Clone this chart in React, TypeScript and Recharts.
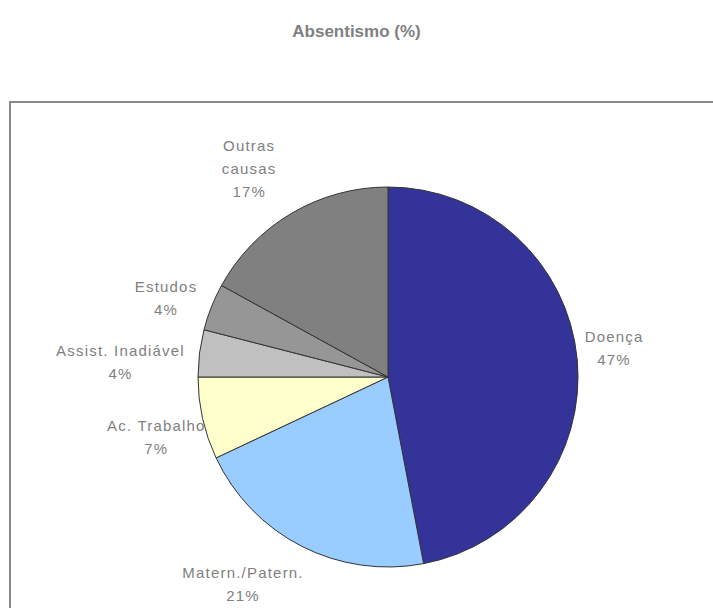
import React from 'react';
import { PieChart, Pie, Cell } from 'recharts';

const CATEGORIES = ['Doença', 'Matern./Patern.', 'Ac. Trabalho', 'Assist. Inadiável', 'Estudos', 'Outras\ncausas'];
const VALUES = [47, 21, 7, 4, 4, 17];

const COLORS = ['#333399', '#99ccff', '#ffffcc', '#c0c0c0', '#969696', '#808080'];

// label placement: angle shift from slice middle (deg, clockwise) and distance as a factor of the radius
const LABEL_SHIFT = [-2, 8, -2, -4, -2, -3];
const LABEL_DIST = [1.2, 1.33, 1.26, 1.41, 1.24, 1.32];

const data = CATEGORIES.map((name, i) => ({ name, value: VALUES[i] }));
const total = VALUES.reduce((s, v) => s + v, 0);

const RADIAN = Math.PI / 180;
const FONT = '"Liberation Sans", Arial, sans-serif';

const renderLabel = ({ cx, cy, midAngle, outerRadius, index }: any) => {
  const angle = midAngle - LABEL_SHIFT[index];
  const r = outerRadius * LABEL_DIST[index];
  const x = cx + r * Math.cos(-angle * RADIAN);
  const y = cy + r * Math.sin(-angle * RADIAN);
  const lines = [...CATEGORIES[index].split('\n'), `${Math.round((VALUES[index] / total) * 100)}%`];
  const lh = 23;
  const y0 = y - ((lines.length - 1) * lh) / 2;
  return (
    <text x={x} y={y0} fill="#808080" textAnchor="middle" fontSize={15} fontFamily={FONT} letterSpacing={1.2}>
      {lines.map((l, i) => (
        <tspan key={i} x={x} y={y0 + i * lh} dominantBaseline="central">
          {l}
        </tspan>
      ))}
    </text>
  );
};

export default function App() {
  return (
    <div style={{ position: 'relative', width: 713, height: 608, overflow: 'hidden', background: '#fff' }}>
      <style>{`body{margin:0}`}</style>
      <div
        style={{
          position: 'absolute',
          left: 9,
          top: 101,
          width: 740,
          height: 560,
          border: '2px solid #8a8a8a',
        }}
      />
      <div
        style={{
          position: 'absolute',
          left: 0,
          top: 22,
          width: 713,
          textAlign: 'center',
          fontFamily: FONT,
          fontWeight: 'bold',
          fontSize: 17,
          color: '#808080',
        }}
      >
        Absentismo (%)
      </div>
      <div style={{ position: 'absolute', left: 0, top: 0 }}>
        <PieChart width={713} height={608}>
          <Pie
            data={data}
            dataKey="value"
            cx={383}
            cy={372}
            outerRadius={190}
            startAngle={90}
            endAngle={-270}
            label={renderLabel}
            labelLine={false}
            isAnimationActive={false}
          >
            {data.map((entry, i) => (
              <Cell key={entry.name} fill={COLORS[i]} stroke="#333333" strokeWidth={1} />
            ))}
          </Pie>
        </PieChart>
      </div>
    </div>
  );
}
